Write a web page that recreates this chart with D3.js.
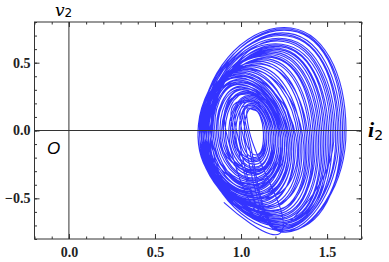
<!DOCTYPE html>
<html>
<head>
<meta charset="UTF-8">
<script src="https://d3js.org/d3.v7.min.js"></script>
<style>
  body { margin: 0; background: #fff; }
  .tick text { font-family: "Liberation Serif", serif; font-weight: bold; font-size: 14px; fill: #222; }
</style>
</head>
<body>
<svg id="chart" width="389" height="262"></svg>
<script>
// loops of the trajectory:
// [i left, i right, v top, v bottom, i at top, i at bottom]
const startPts = [[0.90, -0.53], [1.24, -0.735]];
const pass1 = [
  [1.05,1.13,0.15,-0.18,1.08,1.09], [1.02,1.15,0.17,-0.22,1.07,1.08],
  [0.99,1.17,0.20,-0.27,1.06,1.08], [0.95,1.19,0.24,-0.32,1.05,1.08],
  [0.91,1.22,0.28,-0.37,1.04,1.07], [0.86,1.24,0.33,-0.43,1.01,1.06],
  [0.81,1.27,0.38,-0.49,1.00,1.08], [0.77,1.31,0.44,-0.54,1.01,1.10],
  [0.75,1.37,0.50,-0.60,1.08,1.16], [0.77,1.45,0.57,-0.66,1.16,1.20],
  [0.79,1.53,0.66,-0.71,1.21,1.23], [0.78,1.60,0.75,-0.75,1.25,1.26]
];
const pass2 = [
  [1.04,1.14,0.16,-0.20,1.07,1.08], [1.00,1.16,0.19,-0.25,1.06,1.08],
  [0.97,1.18,0.22,-0.30,1.06,1.08], [0.93,1.20,0.26,-0.35,1.05,1.07],
  [0.88,1.23,0.31,-0.41,1.02,1.06], [0.84,1.25,0.36,-0.46,1.00,1.07],
  [0.79,1.28,0.41,-0.51,0.99,1.08], [0.76,1.33,0.46,-0.56,1.03,1.12],
  [0.78,1.40,0.52,-0.62,1.12,1.18], [0.80,1.48,0.60,-0.68,1.19,1.22],
  [0.76,1.56,0.70,-0.73,1.23,1.24]
];
const pass3 = [
  [0.98,1.17,0.21,-0.28,1.06,1.08], [0.94,1.20,0.25,-0.33,1.05,1.07],
  [0.90,1.21,0.30,-0.39,1.01,1.05], [0.85,1.23,0.34,-0.44,0.99,1.06],
  [0.82,1.26,0.39,-0.48,0.98,1.07], [0.78,1.29,0.43,-0.52,1.00,1.09],
  [0.75,1.35,0.48,-0.58,1.06,1.14], [0.79,1.42,0.54,-0.64,1.15,1.19],
  [0.77,1.50,0.62,-0.70,1.20,1.23], [0.80,1.58,0.72,-0.74,1.24,1.25],
  [0.77,1.61,0.76,-0.75,1.25,1.26]
];
const pass4 = [
  [1.03,1.14,0.16,-0.21,1.07,1.08], [0.96,1.18,0.23,-0.31,1.05,1.08],
  [0.89,1.22,0.29,-0.40,1.03,1.06], [0.83,1.24,0.35,-0.45,1.00,1.06],
  [0.80,1.27,0.40,-0.50,0.99,1.08], [0.76,1.30,0.45,-0.55,1.02,1.11],
  [0.78,1.38,0.51,-0.61,1.10,1.17], [0.81,1.46,0.58,-0.67,1.17,1.21],
  [0.75,1.52,0.64,-0.69,1.20,1.22], [0.79,1.55,0.68,-0.72,1.22,1.24]
];
const pass5 = [
  [0.92,1.21,0.27,-0.36,1.04,1.07], [0.87,1.24,0.32,-0.42,1.00,1.06],
  [0.84,1.26,0.37,-0.47,0.99,1.07], [0.79,1.29,0.42,-0.53,1.00,1.09],
  [0.77,1.34,0.47,-0.57,1.05,1.13], [0.76,1.43,0.55,-0.63,1.14,1.19],
  [0.82,1.49,0.61,-0.69,1.19,1.22], [0.78,1.57,0.71,-0.74,1.23,1.25]
];
const pass6 = [
  [1.01,1.15,0.18,-0.23,1.07,1.08], [0.95,1.19,0.24,-0.30,1.05,1.08],
  [0.87,1.25,0.31,-0.40,1.01,1.08], [0.80,1.32,0.40,-0.50,1.00,1.12],
  [0.77,1.39,0.49,-0.59,1.09,1.17], [0.79,1.44,0.56,-0.65,1.15,1.20],
  [0.81,1.51,0.63,-0.70,1.20,1.23], [0.76,1.59,0.74,-0.75,1.25,1.26]
];
const pass7 = [
  [0.96,1.19,0.22,-0.29,1.05,1.08], [0.90,1.23,0.28,-0.38,1.03,1.07],
  [0.83,1.28,0.36,-0.47,0.99,1.09], [0.78,1.36,0.45,-0.56,1.04,1.15],
  [0.80,1.41,0.53,-0.63,1.13,1.19], [0.78,1.47,0.59,-0.68,1.18,1.22],
  [0.83,1.54,0.67,-0.72,1.22,1.24]
];

const xMajor = [0, 0.5, 1, 1.5];
const xMinor = d3.range(-2, 18).map(d => d / 10);
const yMajor = [-0.5, 0, 0.5];
const yMinor = d3.range(-8, 9).map(d => d / 10);

const svg = d3.select("#chart");
const mLeft = 34.5, mRight = 361.5, mTop = 22, mBottom = 239;

const x = d3.scaleLinear().domain([-0.2, 1.7]).range([mLeft, mRight]);
const y = d3.scaleLinear().domain([-0.8, 0.8]).range([mBottom, mTop]);

// trajectory points: left, top, right, bottom of every loop
const pts = startPts.slice();
[pass1, pass2, pass3, pass4, pass5, pass6, pass7].forEach(pass => {
  pass.forEach(([xl, xr, yt, yb, xt, xb]) => {
    const ym = (yt + yb) / 2;
    pts.push([xl, ym], [xt, yt], [xr, ym], [xb, yb]);
  });
});

const line = d3.line()
  .x(d => x(d[0]))
  .y(d => y(d[1]))
  .curve(d3.curveCardinal.tension(-0.65));

svg.append("path")
  .datum(pts)
  .attr("d", line)
  .attr("fill", "none")
  .attr("stroke", "#0000ff")
  .attr("stroke-width", 1.1)
  .attr("stroke-opacity", 0.8);

// zero axes
svg.append("line").attr("x1", x(0)).attr("x2", x(0)).attr("y1", mTop).attr("y2", mBottom)
  .attr("stroke", "#333").attr("stroke-width", 1);
svg.append("line").attr("x1", mLeft).attr("x2", mRight).attr("y1", y(0)).attr("y2", y(0))
  .attr("stroke", "#333").attr("stroke-width", 1);

// ticks on all four sides, pointing in
function ticks(axis, tr, vals, size, labels) {
  const g = svg.append("g").attr("transform", tr)
    .call(axis.tickValues(vals).tickSize(size).tickSizeOuter(0)
      .tickPadding(labels ? 6 : 0)
      .tickFormat(labels ? d3.format(".1f") : ""));
  g.select(".domain").remove();
  g.selectAll(".tick line").attr("stroke", "#333");
  return g;
}
ticks(d3.axisBottom(x), `translate(0,${mBottom})`, xMinor, -2.5, false);
ticks(d3.axisBottom(x), `translate(0,${mBottom})`, xMajor, -5, true)
  .selectAll("text").attr("y", 8);
ticks(d3.axisTop(x), `translate(0,${mTop})`, xMinor, -2.5, false);
ticks(d3.axisTop(x), `translate(0,${mTop})`, xMajor, -5, false);
ticks(d3.axisLeft(y), `translate(${mLeft},0)`, yMinor, -2.5, false);
ticks(d3.axisLeft(y), `translate(${mLeft},0)`, yMajor, -5, true)
  .selectAll("text").attr("x", -4);
ticks(d3.axisRight(y), `translate(${mRight},0)`, yMinor, -2.5, false);
ticks(d3.axisRight(y), `translate(${mRight},0)`, yMajor, -5, false);

svg.append("rect").attr("x", mLeft).attr("y", mTop)
  .attr("width", mRight - mLeft).attr("height", mBottom - mTop)
  .attr("fill", "none").attr("stroke", "#333").attr("stroke-width", 1);

// axis names
const v2 = svg.append("text").attr("x", 55).attr("y", 15.5);
v2.append("tspan").text("v")
  .attr("font-family", "DejaVu Serif, serif").attr("font-style", "italic").attr("font-size", 17);
v2.append("tspan").text("2").attr("dy", 1.5)
  .attr("font-family", "DejaVu Sans, sans-serif").attr("font-size", 12);

const i2 = svg.append("text").attr("x", 368).attr("y", 137);
i2.append("tspan").text("i")
  .attr("font-family", "Liberation Serif, serif").attr("font-style", "italic")
  .attr("font-weight", "bold").attr("font-size", 22);
i2.append("tspan").text("2").attr("dy", 3)
  .attr("font-family", "DejaVu Sans, sans-serif").attr("font-size", 14);

svg.append("text").attr("x", 47).attr("y", 154).text("O")
  .attr("font-family", "Liberation Sans, sans-serif").attr("font-style", "italic")
  .attr("font-size", 17);
</script>
</body>
</html>
